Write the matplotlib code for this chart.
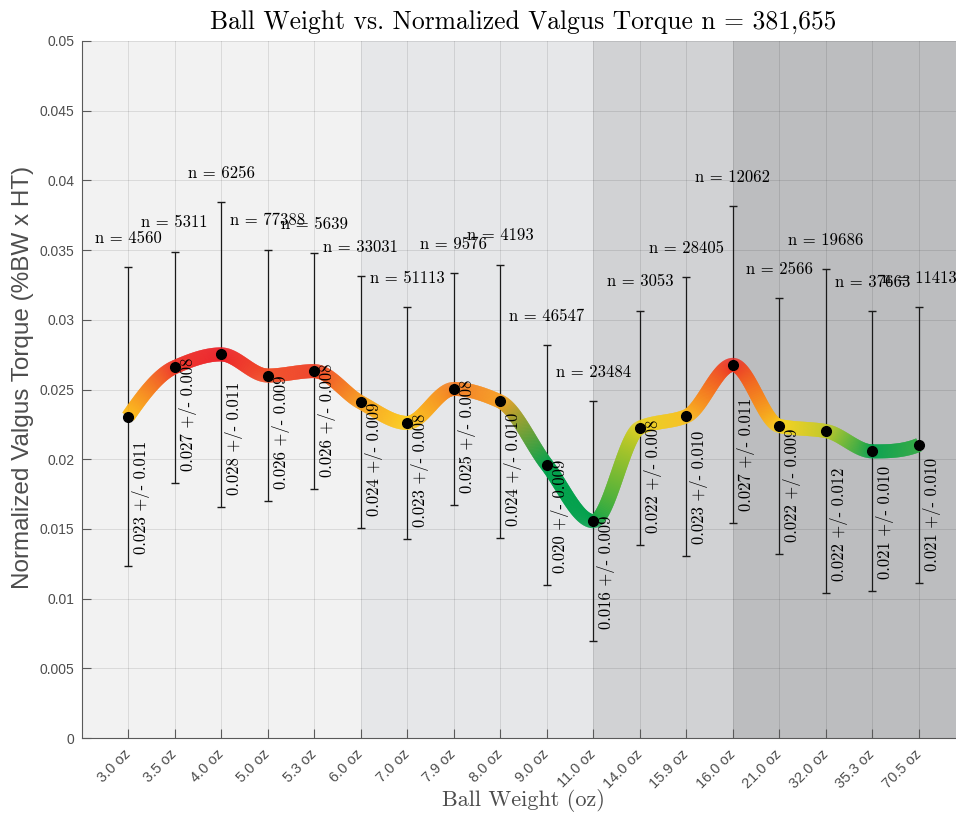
import numpy as np
import matplotlib
matplotlib.use("Agg")
import matplotlib.pyplot as plt
from matplotlib.collections import LineCollection
from matplotlib.colors import LinearSegmentedColormap, Normalize
from matplotlib.transforms import ScaledTranslation

# ---- data -------------------------------------------------------------
weights = ["3.0 oz", "3.5 oz", "4.0 oz", "5.0 oz", "5.3 oz", "6.0 oz",
           "7.0 oz", "7.9 oz", "8.0 oz", "9.0 oz", "11.0 oz", "14.0 oz",
           "15.9 oz", "16.0 oz", "21.0 oz", "32.0 oz", "35.3 oz", "70.5 oz"]
torque_mean = [0.02305, 0.0266, 0.02752, 0.0260, 0.02632, 0.02408,
               0.0226, 0.02504, 0.02414, 0.0196, 0.01555, 0.02226,
               0.02308, 0.02677, 0.02238, 0.02202, 0.02056, 0.02103]
torque_sd = [0.01074, 0.00829, 0.01092, 0.00903, 0.00846, 0.00904,
             0.0083, 0.00832, 0.00982, 0.0086, 0.0086, 0.0084,
             0.00999, 0.01136, 0.00915, 0.01162, 0.01004, 0.00988]
n_pitches = [4560, 5311, 6256, 77388, 5639, 33031, 51113, 9576, 4193,
             46547, 23484, 3053, 28405, 12062, 2566, 19686, 37663, 11413]
total_n = "381,655"
# weight groups start at these categories
group_starts = ["3.0 oz", "6.0 oz", "11.0 oz", "16.0 oz"]
group_colors = ["#f2f2f2", "#e6e7e9", "#d1d2d4", "#bcbdbf"]


def pchip(x, y, xs):
    """Shape-preserving piecewise cubic Hermite interpolation."""
    x = np.asarray(x, float)
    y = np.asarray(y, float)
    h = np.diff(x)
    delta = np.diff(y) / h
    n = len(x)
    d = np.zeros(n)
    for k in range(1, n - 1):
        if delta[k - 1] * delta[k] > 0:
            w1 = 2 * h[k] + h[k - 1]
            w2 = h[k] + 2 * h[k - 1]
            d[k] = (w1 + w2) / (w1 / delta[k - 1] + w2 / delta[k])

    def end_slope(h0, h1, d0, d1):
        s = ((2 * h0 + h1) * d0 - h0 * d1) / (h0 + h1)
        if np.sign(s) != np.sign(d0):
            s = 0.0
        elif np.sign(d0) != np.sign(d1) and abs(s) > abs(3 * d0):
            s = 3 * d0
        return s

    d[0] = end_slope(h[0], h[1], delta[0], delta[1])
    d[-1] = end_slope(h[-1], h[-2], delta[-1], delta[-2])
    idx = np.clip(np.searchsorted(x, xs) - 1, 0, n - 2)
    t = (xs - x[idx]) / h[idx]
    h00 = 2 * t**3 - 3 * t**2 + 1
    h10 = t**3 - 2 * t**2 + t
    h01 = -2 * t**3 + 3 * t**2
    h11 = t**3 - t**2
    return (h00 * y[idx] + h10 * h[idx] * d[idx] + h01 * y[idx + 1]
            + h11 * h[idx] * d[idx + 1]), idx, t


# ---- figure -----------------------------------------------------------
serif = "cmr10"
sans = ["Liberation Sans", "DejaVu Sans"]
plt.rcParams["font.family"] = sans

fig = plt.figure(figsize=(9.56, 8.17), dpi=100)
fig.patch.set_facecolor("white")
ax = fig.add_axes([81.5 / 956, 79 / 817, 884 / 956, 697 / 817])

pos = np.arange(1, len(weights) + 1)
mean = np.array(torque_mean)
sd = np.array(torque_sd)
lower = mean - sd
upper = mean + sd

ax.set_xlim(0, len(weights) + 1)
ax.set_ylim(0, 0.05)

# shaded weight groups
starts = [0] + [weights.index(g) + 1 for g in group_starts[1:]]
ends = starts[1:] + [len(weights) + 1]
for s, e, c in zip(starts, ends, group_colors):
    ax.axvspan(s, e, color=c, lw=0, zorder=0)

ax.grid(True, color="k", alpha=0.1, lw=0.7, zorder=1)
ax.set_axisbelow(True)

# error bars
ax.errorbar(pos, mean, yerr=sd, fmt="none", ecolor="#1a1a1a",
            elinewidth=0.9, capsize=3, capthick=1.0, zorder=2)

# smooth gradient curve: green (low) -> yellow -> orange -> red (high)
vmin, vmax = 0.0207, 0.0270
stops = [(vmin, "#00a14b"), (0.0224, "#ffd619"), (0.0245, "#f7931e"),
         (vmax, "#ec1c24")]
cmap = LinearSegmentedColormap.from_list(
    "gyr", [((v - vmin) / (vmax - vmin), c) for v, c in stops])
norm = Normalize(vmin=vmin, vmax=vmax, clip=True)
pt_rgb = cmap(norm(mean))[:, :3]

xs = np.linspace(pos[0], pos[-1], 3000)
ys, idx, t = pchip(pos, mean, xs)
rgb = pt_rgb[idx] * (1 - t)[:, None] + pt_rgb[idx + 1] * t[:, None]
pts = np.column_stack([xs, ys])
segs = np.stack([pts[:-2], pts[2:]], axis=1)
seg_rgb = rgb[1:-1]
lc = LineCollection(segs, colors=seg_rgb, linewidths=10, capstyle="butt",
                    zorder=3)
ax.add_collection(lc)

ax.plot(pos, mean, "o", color="k", ms=7, zorder=4)

# annotations
for xi, m, s, lo, hi, n in zip(pos, mean, sd, lower, upper, n_pitches):
    ax.text(xi, hi + 0.00208, f"n = {n}", family=serif, fontsize=12,
            ha="center", va="center", zorder=5, clip_on=False)
    ax.text(xi + 0.28, lo + 0.00086, f"{m:.3f} +/- {s:.3f}", family=serif,
            fontsize=12, rotation=90, ha="center", va="bottom", zorder=5)

# axes styling
ax.set_xticks(pos)
ax.set_xticklabels(weights, rotation=45, ha="right", va="center",
                   rotation_mode="anchor", fontsize=10.5, color="#4d4d4d")
shift = ScaledTranslation(9 / 100, -8 / 100, fig.dpi_scale_trans)
for lab in ax.get_xticklabels():
    lab.set_transform(lab.get_transform() + shift)
yt = np.arange(0, 0.0501, 0.005)
ax.set_yticks(yt)
ax.set_yticklabels([f"{v:g}" for v in np.round(yt, 3)], fontsize=10,
                   color="#4d4d4d")
ax.tick_params(axis="both", direction="in", length=6.5, width=0.8,
               color="#5a5a5a")
ax.tick_params(axis="y", pad=5)
ax.tick_params(axis="x", pad=10)
for side in ("top", "right"):
    ax.spines[side].set_visible(False)
for side in ("left", "bottom"):
    ax.spines[side].set_color("#5a5a5a")
    ax.spines[side].set_linewidth(0.8)

ax.set_title(f"Ball Weight vs. Normalized Valgus Torque n = {total_n}",
             family=serif, fontsize=18.4, pad=9)
ax.set_xlabel("Ball Weight (oz)", family=serif, fontsize=16,
              color="#4d4d4d")
ax.set_ylabel("Normalized Valgus Torque (%BW x HT)", fontsize=17.5,
              color="#4d4d4d")
ax.xaxis.set_label_coords(0.5, -0.073)
ax.yaxis.set_label_coords(-0.054, 0.517)

fig.savefig("out.png", dpi=100)
